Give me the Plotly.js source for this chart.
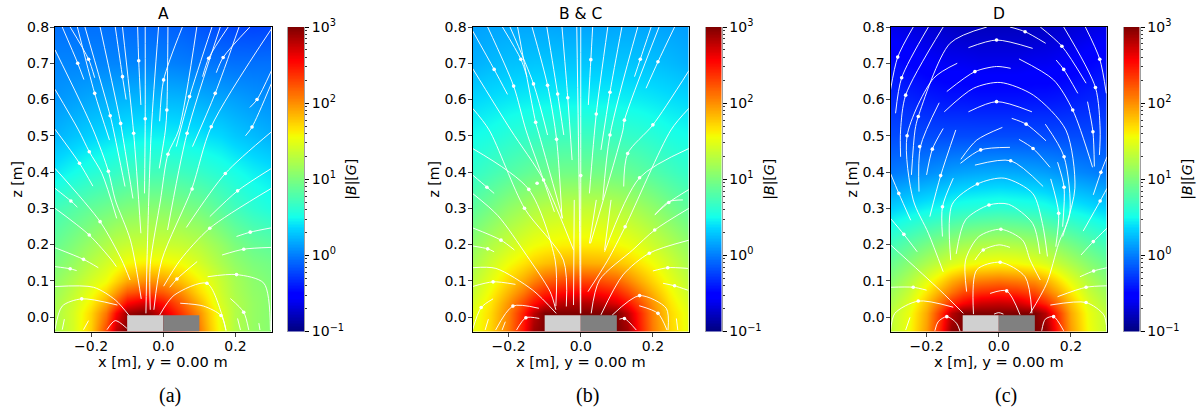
<!DOCTYPE html>
<html><head><meta charset="utf-8">
<script src="https://cdn.plot.ly/plotly-3.0.1.min.js"></script>
<style>html,body{margin:0;padding:0;background:#fff}</style></head>
<body><div id="chart" style="width:1199px;height:410px"></div>
<script>
const xGrid=[-0.3,-0.25,-0.2,-0.16,-0.13,-0.1,-0.05,0,0.05,0.1,0.13,0.16,0.2,0.25,0.3];
const zGrid=[0.8,0.7,0.6,0.5,0.4,0.3,0.2,0.15,0.1,0.07,0.04,0.01,-0.04];
const logBA=[
[-.05,-.05,-.05,-.05,-.06,-.07,-.08,-.1,-.12,-.16,-.18,-.2,-.22,-.23,-.22],
[.03,.03,.03,.03,.03,.03,.03,.02,0,-.02,-.03,-.04,-.05,-.05,-.05],
[.1,.14,.18,.2,.22,.23,.24,.24,.23,.2,.18,.17,.14,.1,.07],
[.22,.28,.34,.38,.41,.44,.46,.46,.44,.41,.38,.36,.3,.25,.2],
[.42,.5,.58,.62,.66,.7,.72,.72,.7,.66,.62,.58,.52,.45,.4],
[.72,.8,.88,.94,.98,1.02,1.06,1.06,1.02,.96,.9,.82,.72,.62,.55],
[.9,1.02,1.15,1.25,1.32,1.36,1.38,1.38,1.35,1.28,1.2,1.12,1,.9,.85],
[1,1.12,1.28,1.4,1.48,1.57,1.62,1.6,1.55,1.42,1.32,1.22,1.1,1,.95],
[1.1,1.25,1.42,1.55,1.72,1.9,2,1.95,1.8,1.6,1.48,1.35,1.2,1.08,1],
[1.15,1.32,1.52,1.72,1.95,2.2,2.3,2.2,2,1.7,1.55,1.38,1.22,1.1,1.05],
[1.2,1.38,1.62,1.9,2.2,2.55,2.7,2.5,2.2,1.85,1.62,1.42,1.25,1.12,1.05],
[1.22,1.42,1.72,2.1,2.55,2.9,3,2.7,2.35,2,1.72,1.48,1.25,1.12,1.05],
[1.22,1.42,1.75,2.3,2.8,3,3,3,2.5,2.1,1.78,1.52,1.25,1.12,1.05]];
const logBB=[
[.14,.16,.17,.17,.17,.17,.16,.16,.16,.17,.17,.17,.16,.15,.13],
[.2,.24,.27,.28,.29,.29,.29,.29,.29,.29,.29,.28,.27,.24,.2],
[.36,.39,.42,.44,.45,.46,.46,.46,.46,.46,.45,.44,.42,.39,.36],
[.5,.54,.6,.64,.66,.68,.7,.7,.7,.68,.66,.64,.6,.54,.5],
[.64,.72,.8,.86,.9,.92,.95,.95,.95,.92,.9,.86,.8,.72,.64],
[.85,.97,1.1,1.18,1.24,1.28,1.32,1.33,1.32,1.28,1.24,1.18,1.1,.97,.85],
[1.1,1.25,1.38,1.48,1.54,1.58,1.62,1.63,1.62,1.58,1.54,1.48,1.38,1.25,1.1],
[1.2,1.38,1.55,1.66,1.74,1.8,1.86,1.88,1.86,1.8,1.74,1.66,1.55,1.38,1.2],
[1.3,1.5,1.72,1.9,2.05,2.18,2.27,2.3,2.27,2.18,2.05,1.9,1.72,1.5,1.3],
[1.35,1.58,1.85,2.08,2.27,2.42,2.52,2.55,2.52,2.42,2.27,2.08,1.85,1.58,1.35],
[1.42,1.65,1.98,2.28,2.5,2.66,2.8,2.83,2.8,2.66,2.5,2.28,1.98,1.65,1.42],
[1.48,1.7,2.05,2.45,2.78,3,3,3,3,3,2.78,2.45,2.05,1.7,1.48],
[1.5,1.72,2.08,2.5,2.9,3,3,3,3,3,2.9,2.5,2.08,1.72,1.5]];
const logBD=[
[-.62,-.66,-.7,-.73,-.75,-.77,-.78,-.78,-.78,-.77,-.75,-.73,-.7,-.66,-.62],
[-.45,-.5,-.55,-.58,-.6,-.6,-.62,-.62,-.62,-.6,-.6,-.58,-.55,-.5,-.45],
[-.33,-.36,-.39,-.41,-.42,-.42,-.43,-.43,-.43,-.42,-.42,-.41,-.39,-.36,-.33],
[-.2,-.2,-.2,-.2,-.2,-.2,-.2,-.2,-.2,-.2,-.2,-.2,-.2,-.2,-.2],
[-.02,.02,.06,.1,.13,.15,.17,.18,.17,.15,.13,.1,.06,.02,-.02],
[.33,.4,.46,.5,.55,.58,.6,.62,.6,.58,.55,.5,.46,.4,.33],
[.72,.85,.98,1.08,1.15,1.2,1.25,1.27,1.25,1.2,1.15,1.08,.98,.85,.72],
[.9,1.05,1.22,1.35,1.44,1.5,1.56,1.58,1.56,1.5,1.44,1.35,1.22,1.05,.9],
[1.05,1.25,1.5,1.72,1.88,2,2.08,2.12,2.08,2,1.88,1.72,1.5,1.25,1.05],
[1.15,1.35,1.65,1.92,2.1,2.27,2.38,2.42,2.38,2.27,2.1,1.92,1.65,1.35,1.15],
[1.22,1.45,1.8,2.15,2.4,2.55,2.72,2.75,2.72,2.55,2.4,2.15,1.8,1.45,1.22],
[1.3,1.52,1.9,2.4,2.8,3,3,3,3,3,2.8,2.4,1.9,1.52,1.3],
[1.32,1.55,1.95,2.5,2.95,3,3,3,3,3,2.95,2.5,1.95,1.55,1.32]];

// streamlines: flat x,z pairs in axis units
const streamsA=[
[-.28,.8,-.237,.7,-.22,.655],[-.258,.8,-.207,.711,-.19,.66],[-.238,.8,-.19,.617,-.149,.488],[-.133,.8,-.113,.663,-.103,.6],
[-.217,.8,-.147,.555,-.138,.516,-.106,.36],[-.175,.8,-.118,.534,-.115,.516,-.084,.327],[-.113,.8,-.082,.507,-.062,.231],
[-.071,.8,-.068,.707,-.062,.585],[-.05,.8,-.05,.547,-.052,.341],[-.013,.8,-.033,.516,-.045,.157,-.048,.01],
[.013,.8,.01,.571,.006,.516,-.011,.41],[.053,.8,.001,.654,-.01,.54],[.093,.8,.043,.516,.013,.449,-.008,.32,-.036,.144,-.036,.02],
[.135,.8,.073,.608,.036,.47],[.158,.8,.066,.507,.012,.24],[.18,.8,.126,.714,.109,.663],[.24,.8,.166,.716,.147,.674],[.21,.8,.144,.617,.081,.47],
[.3,.795,.133,.525,.079,.353,-.004,.157,-.026,.02],[.3,.68,.26,.6,.24,.578],[.3,.645,.246,.524,.228,.5],
[.3,.511,.172,.396,.064,.247],[.3,.41,.206,.348,.129,.277],[.3,.355,.129,.245,.047,.157,.001,.085],
[-.3,.737,-.194,.516,-.152,.402,-.133,.323,-.091,.212,-.061,.05],[-.3,.628,-.235,.516,-.205,.456,-.17,.396,-.129,.272],
[-.3,.518,-.232,.424,-.195,.361],[-.3,.41,-.175,.263,-.115,.157,-.092,.102],[-.3,.3,-.205,.226,-.143,.157,-.13,.139],
[-.3,.355,-.256,.32,-.238,.303],[-.3,.191,-.221,.159,-.18,.136],[-.3,.139,-.258,.133,-.24,.128],
[-.3,.084,-.193,.082,-.133,.047,-.092,.001],[-.3,-.035,-.28,.03,-.226,.05,-.127,.033],[-.28,-.035,-.274,-.006],[-.221,-.035,-.207,-.01],[-.156,-.035,-.133,-.01,-.101,-.031],
[.018,.082,.038,.105,.094,.153],[.203,.222,.241,.234,.3,.246],[.163,.171,.223,.187,.3,.192],[.123,.111,.203,.117,.279,.093,.297,-.036],
[-.01,.005,.03,.06,.121,.093,.163,.005,.174,-.038],[.047,.038,.112,.03,.16,.004,.174,-.036],[.186,.051,.223,.013,.237,-.036],[.206,-.004,.214,-.036],[.265,-.017,.268,-.036]];
const arrowsAx=[-.237,-.207,-.19,-.147,-.118,-.082,-.113,-.068,-.05,.001,.01,.013,.066,.073,.133,.144,.126,.166,.26,.246,.172,.206,-.232,-.205,-.152,.08,-.256,-.175,-.205,-.221,-.258,-.226,.038,.129,.241,.223,.203,.121,.16,.223];
const arrowsAz=[.7,.711,.617,.555,.534,.507,.663,.707,.547,.654,.571,.449,.507,.608,.525,.617,.714,.716,.6,.524,.396,.348,.424,.456,.402,.353,.32,.263,.226,.159,.133,.05,.105,.245,.234,.187,.117,.093,.004,.013];
const streamsB=[
[-.3,.79,-.24,.683,-.203,.614],[-.217,.8,-.166,.711,-.149,.663],[-.196,.8,-.131,.643,-.092,.502],
[-.258,.8,-.186,.637,-.152,.516,-.104,.38,-.073,.29],[-.175,.8,-.125,.537,-.119,.516,-.05,.272],[-.3,.686,-.194,.516,-.103,.378,-.02,.185],
[-.135,.8,-.092,.639,-.067,.49,-.052,.272],[-.094,.8,-.064,.615,-.047,.502],[-.052,.8,-.036,.605,-.024,.433],
[0,.8,0,.4,0,.01],[-.011,.8,-.004,.32,-.001,.01],[.033,.8,.028,.71,.021,.585],[.075,.8,.043,.56,.024,.341],
[.114,.8,.081,.62,.056,.461],[.158,.8,.081,.502,.061,.323],[.217,.8,.121,.543,.117,.516,.027,.203],[.195,.8,.165,.711,.149,.663],
[.3,.68,.2,.53,.13,.451,.119,.36],[.3,.576,.25,.516,.123,.249,.075,.157,.02,.07],[.3,.465,.163,.384,.066,.18],[.26,.8,.214,.704,.181,.631],
[.3,.352,.244,.316,.206,.283],[.3,.3,.205,.24,.144,.185,.052,.102,.029,.01],[.3,.212,.19,.176,.117,.116,.056,.006],
[-.3,.576,-.254,.516,-.156,.3,-.048,.157,-.04,.029],[-.3,.465,-.144,.352,-.071,.157,-.069,.03],[-.3,.392,-.26,.358,-.24,.341],
[-.3,.341,-.23,.28,-.15,.17,-.085,.07,-.069,.02],[-.018,.323,-.02,.033],[.043,.323,.024,.203],[.084,.323,.066,.185],
[.205,.281,.244,.318,.283,.323],[.2,.127,.241,.136,.297,.134],[.228,.093,.26,.086,.297,.074],
[.087,.005,.163,.059,.237,.024,.242,-.036],[.162,.031,.214,.01,.239,-.036],[.107,-.006,.121,-.004,.154,-.036],[.265,-.004,.269,-.036],
[-.3,.246,-.221,.212,-.184,.185],[-.3,.196,-.258,.188,-.24,.18],[-.3,.136,-.235,.134,-.133,.074,-.068,.01],[-.3,.084,-.243,.097,-.181,.09],
[-.3,-.036,-.276,.026,-.243,.05],[-.236,-.036,-.188,.03,-.116,.024],[-.265,-.036,-.256,-.006],[-.218,-.036,-.209,-.013],[-.178,-.036,-.152,-.002,-.115,-.004]];
const arrowsBx=[-.24,-.186,-.166,-.131,-.125,-.092,-.064,-.036,-.067,.028,.043,.081,.081,.121,.165,.214,.2,.163,.13,-.103,-.121,-.144,-.156,-.26,0,.123,.205,.19,.244,.241,.26,.163,.214,.121,-.221,-.258,-.243,-.276,-.188,-.152];
const arrowsBz=[.683,.637,.711,.643,.537,.639,.615,.605,.49,.71,.56,.62,.502,.543,.711,.704,.53,.384,.451,.378,.369,.352,.3,.358,.39,.249,.24,.176,.316,.136,.086,.059,.01,-.004,.212,.188,.097,.026,.03,-.002];
const streamsD=[
[-.237,.8,-.28,.717,-.3,.626],[-.195,.8,-.269,.66,-.286,.562],[-.154,.8,-.258,.612,-.272,.516,-.272,.442],
[-.033,.8,-.135,.755,-.223,.553,-.232,.516,-.242,.392],[-.084,.743,-.006,.764,.094,.741],[.031,.8,.073,.787,.13,.755],
[.115,.8,.175,.747,.242,.645],[.24,.8,.28,.711,.298,.617],[.18,.8,.268,.633,.281,.516,.279,.447],[.159,.709,.18,.683,.219,.617],
[.056,.712,.152,.654,.205,.571,.26,.413],[-.144,.622,-.066,.677,-.006,.691,.033,.686],
[-.115,.7,-.181,.658,-.254,.5,-.237,.323,-.195,.231,-.154,.125],
[-.151,.566,-.07,.631,.004,.647,.096,.612,.186,.516,.211,.355,.177,.222],[-.084,.566,-.006,.594,.092,.566],[.246,.594,.261,.511,.265,.415],
[.036,.548,.076,.532,.131,.486],[.129,.532,.181,.442,.197,.286,.166,.203,.133,.093,.087,.01],
[-.165,.591,-.217,.47,-.221,.346],[-.154,.52,-.184,.463,-.2,.392],[-.119,.516,-.161,.39,-.191,.277],[-.126,.383,-.156,.304,-.156,.222],
[-.106,.424,-.05,.461,.031,.468],[-.105,.435,-.061,.488,.01,.523],[-.066,.419,.033,.431,.123,.36],[.056,.49,.095,.465,.142,.413],
[.163,.427,.181,.358,.177,.249],[.144,.381,.166,.286,.158,.194],[.3,.442,.283,.399,.262,.337],[.3,.355,.281,.32,.234,.237],
[-.3,.396,-.277,.341,-.244,.267],[-.3,.272,-.263,.228,-.226,.18],[-.3,.199,-.163,.074,-.098,.01],
[-.133,.157,-.129,.311,-.059,.367,.015,.383,.094,.341,.121,.258,.135,.167],[-.118,.174,-.092,.268,-.027,.309,.027,.311,.094,.258,.114,.174],
[-.089,.07,-.092,.157,-.055,.222,.006,.242,.066,.212,.087,.157,.115,.102],[-.066,.157,-.043,.185,.001,.199,.031,.192],
[-.07,.008,-.061,.13,.004,.151,.073,.111,.092,.01],[-.024,.065,.022,.072,.059,.006],[-.013,.008,0,.012,.013,.008],
[.228,.171,.262,.208,.3,.245],[.225,.111,.263,.127,.3,.136],[.163,.056,.242,.082,.3,.086],[.143,.033,.242,.04,.291,.006,.3,-.04],
[-.3,-.04,-.288,.01,-.223,.044,-.126,.027],[-.3,.082,-.237,.082,-.2,.074],[-.258,-.036,-.246,-.001],
[-.177,-.038,-.168,-.013,-.144,.001,-.117,-.017,-.107,-.04],[.119,-.038,.129,-.006,.152,.001,.18,-.038]];
const arrowsDx=[-.28,-.269,-.258,-.223,-.006,.073,.175,.28,.268,.18,.205,-.066,-.254,-.006,.261,.076,.181,-.219,-.184,-.161,-.156,-.05,.033,.095,.181,.166,.283,.281,-.277,-.263,-.059,-.027,.006,-.043,.004,.022,.262,.263,.242,.242,-.223,-.237,-.144,.152];
const arrowsDz=[.717,.66,.612,.553,.764,.787,.747,.711,.633,.683,.571,.677,.5,.594,.511,.532,.442,.47,.463,.39,.304,.461,.431,.465,.358,.286,.399,.32,.341,.228,.367,.309,.242,.185,.151,.072,.208,.127,.082,.04,.044,.082,.001,.001];

const colorStops=[[0,'rgb(0,0,127)'],[.11,'rgb(0,0,255)'],[.125,'rgb(0,0,255)'],[.34,'rgb(0,216,255)'],[.375,'rgb(20,255,235)'],[.5,'rgb(124,255,124)'],[.64,'rgb(243,255,4)'],[.66,'rgb(255,234,0)'],[.89,'rgb(255,0,0)'],[.91,'rgb(232,0,0)'],[1,'rgb(127,0,0)']];
const panelTitles=['A','B & C','D'];
const panelCaptions=['(a)','(b)','(c)'];
const xAxisLabel='x [m], y = 0.00 m';
const cbTickVals=[0.1,1,10,100,1000];
const cbTickText=['10<sup>−1</sup>','10<sup>0</sup>','10<sup>1</sup>','10<sup>2</sup>','10<sup>3</sup>'];
const magnetX=[-0.1,0,0.1];
const magnetZ=[-0.04,0.005];

const W=1199,H=410,FONT='DejaVu Sans, Verdana, sans-serif';
const plotL=[55,472.5,890.5],plotW=216.5,plotTop=27,plotBot=331.5,cbOff=233,cbW=16;
const fx=p=>p/W,fy=p=>1-p/H;
const tf={family:FONT,size:14,color:'#000'};
const traces=[],annotations=[],shapes=[];
const layout={width:W,height:H,margin:{l:0,r:0,t:0,b:0},paper_bgcolor:'#fff',plot_bgcolor:'#fff',showlegend:false,font:tf};

const levels=[];for(let v=-1;v<=3.0001;v+=0.02)levels.push(+v.toFixed(2));
const grids=[logBA,logBB,logBD],streams=[streamsA,streamsB,streamsD];
const arrX=[arrowsAx,arrowsBx,arrowsDx],arrZ=[arrowsAz,arrowsBz,arrowsDz];
const minorVals=[];[0.1,1,10,100].forEach(d=>{for(let k=2;k<10;k++)minorVals.push(d*k)});

grids.forEach((g,i)=>{
  const a=2*i+1,b=2*i+2;
  const xa='x'+a,ya='y'+a,xb='x'+b,yb='y'+b;
  layout['xaxis'+a]={domain:[fx(plotL[i]),fx(plotL[i]+plotW)],range:[-0.3,0.3],anchor:ya,showline:true,mirror:true,linecolor:'#000',linewidth:1,ticks:'outside',ticklen:4,tickwidth:1,tickvals:[-0.2,0,0.2],tickformat:'.1f',showgrid:false,zeroline:false,tickfont:tf,ticklabelstandoff:-2};
  layout['yaxis'+a]={domain:[fy(plotBot),fy(plotTop)],range:[-0.04,0.8],anchor:xa,showline:true,mirror:true,linecolor:'#000',linewidth:1,ticks:'outside',ticklen:4,tickwidth:1,tickvals:[0,.1,.2,.3,.4,.5,.6,.7,.8],tickformat:'.1f',showgrid:false,zeroline:false,tickfont:tf,ticklabelstandoff:-2,
    title:{text:'z [m]',font:tf,standoff:1}};
  layout['xaxis'+b]={domain:[fx(plotL[i]+cbOff),fx(plotL[i]+cbOff+cbW)],range:[0,1],anchor:yb,showticklabels:false,ticks:'',showgrid:false,zeroline:false,showline:false};
  layout['yaxis'+b]={domain:[fy(plotBot),fy(plotTop)],type:'log',range:[-1,3],anchor:xb,side:'right',showline:true,mirror:true,linecolor:'#a0a0a0',linewidth:1,ticks:'outside',ticklen:4,tickwidth:1,tickcolor:'#000',tickvals:cbTickVals,ticktext:cbTickText,showgrid:false,zeroline:false,tickfont:tf,
    minor:{ticks:'outside',ticklen:2,tickwidth:.8,tickcolor:'#000',tickvals:minorVals,showgrid:false},
    title:{text:'|<i>B</i>|[<i>G</i>]',font:tf,standoff:3}};
  traces.push({type:'heatmap',x:xGrid,y:zGrid.slice().reverse(),z:g.slice().reverse(),xaxis:xa,yaxis:ya,zmin:-1,zmax:3,colorscale:colorStops,zsmooth:'best',showscale:false,hoverinfo:'skip'});
  streams[i].forEach(s=>{
    const xs=s.filter((_,k)=>k%2===0),zs=s.filter((_,k)=>k%2===1);
    traces.push({type:'scatter',mode:'lines',x:xs,y:zs,xaxis:xa,yaxis:ya,line:{color:'rgba(255,255,255,.92)',width:1,shape:'spline',smoothing:0.8},hoverinfo:'skip'});
  });
  traces.push({type:'scatter',mode:'markers',x:arrX[i],y:arrZ[i],xaxis:xa,yaxis:ya,marker:{color:'#fff',size:3.6},hoverinfo:'skip'});
  traces.push({type:'heatmap',x:[0,1],y:levels.map(v=>Math.pow(10,v)),z:levels.map(v=>[v,v]),xaxis:xb,yaxis:yb,zmin:-1,zmax:3,colorscale:colorStops,zsmooth:false,showscale:false,hoverinfo:'skip'});
  shapes.push({type:'rect',xref:xa,yref:ya,x0:magnetX[0],x1:magnetX[1],y0:magnetZ[0],y1:magnetZ[1],fillcolor:'#d0d0d0',line:{width:0},layer:'above'});
  shapes.push({type:'rect',xref:xa,yref:ya,x0:magnetX[1],x1:magnetX[2],y0:magnetZ[0],y1:magnetZ[1],fillcolor:'#808080',line:{width:0},layer:'above'});
  annotations.push({xref:'paper',yref:'paper',x:fx(plotL[i]+plotW/2),y:fy(14),text:panelTitles[i],showarrow:false,font:{family:FONT,size:15.5,color:'#000'},xanchor:'center',yanchor:'middle'});
  annotations.push({xref:'paper',yref:'paper',x:fx(plotL[i]+plotW/2),y:fy(361.5),text:xAxisLabel,showarrow:false,borderpad:0,font:{family:FONT,size:14.6,color:'#000'},xanchor:'center',yanchor:'middle'});
  annotations.push({xref:'paper',yref:'paper',x:fx(plotL[i]+plotW/2+7),y:fy(395),text:panelCaptions[i],showarrow:false,font:{family:'Liberation Serif, serif',size:20,color:'#000'},xanchor:'center',yanchor:'middle'});
});
layout.annotations=annotations;layout.shapes=shapes;
Plotly.newPlot('chart',traces,layout,{displayModeBar:false,staticPlot:true});
</script></body></html>
